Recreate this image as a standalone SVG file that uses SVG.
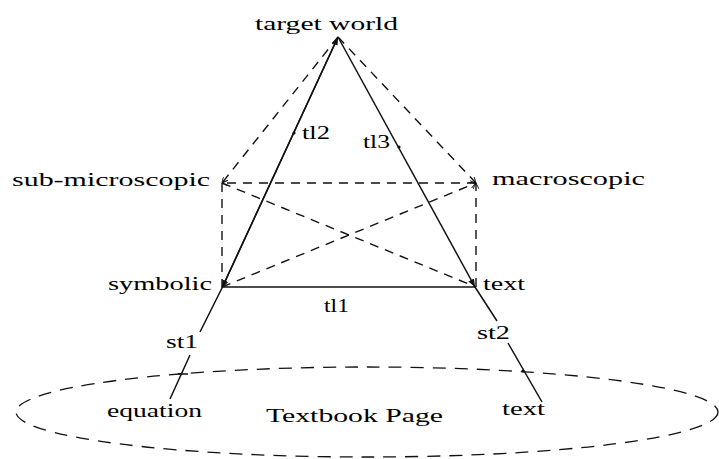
<svg xmlns="http://www.w3.org/2000/svg" width="719" height="459" viewBox="0 0 719 459">
<style>
text{font-family:"Liberation Serif","Times New Roman",serif;font-size:18px;fill:#000}
.s{fill:none;stroke:#111;stroke-width:1.5}
.d{fill:none;stroke:#111;stroke-width:1.4;stroke-dasharray:9,7}
.e{fill:none;stroke:#111;stroke-width:1.3;stroke-dasharray:13,9}
</style>
<defs>
<marker id="open" viewBox="0 0 10 10" refX="10" refY="5" markerWidth="6" markerHeight="6" markerUnits="userSpaceOnUse" orient="auto">
<path d="M0,0 L10,5 L0,10" fill="none" stroke="#111" stroke-width="1.5"/>
</marker>
<marker id="fill" viewBox="0 0 10 10" refX="10" refY="5" markerWidth="8" markerHeight="8" markerUnits="userSpaceOnUse" orient="auto">
<path d="M0,1 L10,5 L0,9 z" fill="#111"/>
</marker>
</defs>
<g id="connectors">
<path class="s" d="M222,288 L338,37" marker-end="url(#fill)"/>
<path class="s" d="M338,37 L222,288" marker-end="url(#fill)"/>
<path class="s" d="M338,37 L475,287" marker-end="url(#fill)"/>
<path class="s" d="M222,287 L475,287"/>
<path class="s" d="M222,288 L200,332 M190,355 L170,399"/>
<path class="s" d="M475,287 L497,321 M508,343 L542,402"/>
<path class="d" d="M338,37 L222,183" marker-end="url(#open)"/>
<path class="d" d="M338,37 L476,183" marker-end="url(#open)"/>
<path class="d" d="M476,183 L222,183" marker-end="url(#open)"/>
<path class="d" d="M222,183 L222,287"/>
<path class="d" d="M476,287 L476,183" marker-end="url(#open)"/>
<path class="d" d="M222,183 L476,287"/>
<path class="d" d="M222,287 L476,183" marker-end="url(#open)"/>
<path class="s" d="M178,374 L188,374" stroke-width="1.2"/>
<circle cx="523" cy="371" r="1.6" fill="#111"/>
<circle cx="294" cy="133" r="1.6" fill="#111"/>
<circle cx="399" cy="147" r="1.6" fill="#111"/>
</g>
<g id="page">
<ellipse class="e" cx="367" cy="412" rx="351" ry="45"/>
<text x="266" y="422" font-size="19" textLength="177" lengthAdjust="spacingAndGlyphs">Textbook Page</text>
</g>
<g id="target-world"><text x="255" y="30" textLength="143" lengthAdjust="spacingAndGlyphs">target world</text></g>
<g id="sub-microscopic"><text x="12" y="186" textLength="198" lengthAdjust="spacingAndGlyphs">sub-microscopic</text></g>
<g id="macroscopic"><text x="492" y="185" textLength="153" lengthAdjust="spacingAndGlyphs">macroscopic</text></g>
<g id="symbolic"><text x="108" y="290" textLength="104" lengthAdjust="spacingAndGlyphs">symbolic</text></g>
<g id="text-node"><text x="483" y="290" textLength="42" lengthAdjust="spacingAndGlyphs">text</text></g>
<g id="equation"><text x="107" y="417" textLength="95" lengthAdjust="spacingAndGlyphs">equation</text></g>
<g id="text-page"><text x="502" y="415" textLength="43" lengthAdjust="spacingAndGlyphs">text</text></g>
<g id="labels">
<text x="302" y="139" textLength="28" lengthAdjust="spacingAndGlyphs">tl2</text>
<text x="363" y="148" textLength="27" lengthAdjust="spacingAndGlyphs">tl3</text>
<text x="324" y="312" textLength="25" lengthAdjust="spacingAndGlyphs">tl1</text>
<text x="166" y="348" textLength="32" lengthAdjust="spacingAndGlyphs">st1</text>
<text x="477" y="339" textLength="33" lengthAdjust="spacingAndGlyphs">st2</text>
</g>
</svg>
